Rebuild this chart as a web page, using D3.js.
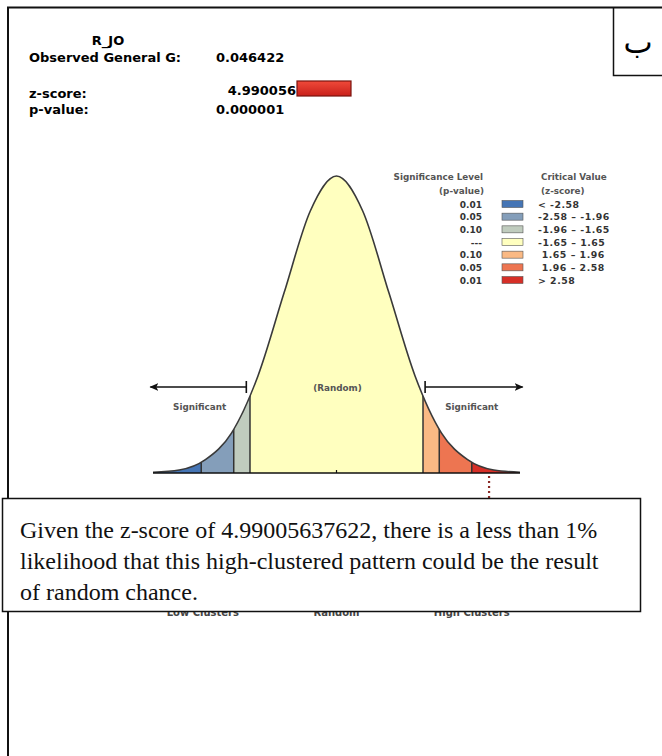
<!DOCTYPE html>
<html>
<head>
<meta charset="utf-8">
<script src="https://cdn.jsdelivr.net/npm/d3@7.9.0/dist/d3.min.js"></script>
<style>
  html, body { margin: 0; padding: 0; background: #fff; }
  svg { display: block; }
</style>
</head>
<body>
<div id="chart"></div>
<script>
// report header
const datasetName = "R_JO";
const headerLabels = ["Observed General G:", "z-score:", "p-value:"];
const headerValues = ["0.046422", "4.990056", "0.000001"];

// legend / bins
const pLevels = ["0.01", "0.05", "0.10", "---", "0.10", "0.05", "0.01"];
const zRanges = ["< -2.58", "-2.58 \u2013 -1.96", "-1.96 \u2013 -1.65", "-1.65 \u2013 1.65", " 1.65 \u2013 1.96", " 1.96 \u2013 2.58", "> 2.58"];
const binColors = ["#4575b5", "#849eba", "#c0ccbe", "#ffffbf", "#fab984", "#ed7551", "#d62f27"];
const zBreaks = [-3.5, -2.58, -1.96, -1.65, 1.65, 1.96, 2.58, 3.5];

// bell curve heights (z, density)
const curveZ = [-3.5, -3, -2.5, -2, -1.5, -1, -0.5, 0, 0.5, 1, 1.5, 2, 2.5, 3, 3.5];
const curveH = [0.001, 0.004, 0.018, 0.054, 0.13, 0.242, 0.352, 0.399, 0.352, 0.242, 0.13, 0.054, 0.018, 0.004, 0.001];

const bottomLabels = ["Low Clusters", "Random", "High Clusters"];
const bottomLabelZ = [-2.55, 0, 2.58];
const pointerZ = 2.91;

const resultLines = [
  "Given the z-score of 4.99005637622, there is a less than 1%",
  "likelihood that this high-clustered pattern could be the result",
  "of random chance."
];

const width = 662, height = 756;
const svg = d3.select("#chart").append("svg")
  .attr("width", width)
  .attr("height", height);

svg.append("rect").attr("width", width).attr("height", height).attr("fill", "#fff");

// outer frame (top + left edge) and the letter box
svg.append("path")
  .attr("d", `M8,${height} L8,7.5 L${width},7.5`)
  .attr("fill", "none").attr("stroke", "#111").attr("stroke-width", 2);
svg.append("path")
  .attr("d", `M613.5,7.5 L613.5,75.5 L${width},75.5`)
  .attr("fill", "none").attr("stroke", "#111").attr("stroke-width", 1.5);
svg.append("text")
  .attr("x", 638).attr("y", 53)
  .attr("text-anchor", "middle")
  .style("font-family", "DejaVu Sans")
  .style("font-size", "31px")
  .text("ب");

// header block
const head = svg.append("g").style("font-family", "'DejaVu Sans', Verdana, sans-serif")
  .style("font-weight", "bold").style("font-size", "13px").attr("fill", "#000");
head.append("text").attr("x", 108).attr("y", 45).attr("text-anchor", "middle").text(datasetName);
const rowY = [62, 98, 114];
headerLabels.forEach((lbl, i) => {
  head.append("text").attr("x", 29).attr("y", rowY[i]).text(lbl);
});
head.append("text").attr("x", 216).attr("y", rowY[0]).text(headerValues[0]);
head.append("text").attr("x", 296).attr("y", 95).attr("text-anchor", "end").text(headerValues[1]);
head.append("text").attr("x", 216).attr("y", rowY[2]).text(headerValues[2]);

// red swatch next to the z-score
const defs = svg.append("defs");
const grad = defs.append("linearGradient").attr("id", "redg").attr("x1", 0).attr("y1", 0).attr("x2", 0).attr("y2", 1);
grad.append("stop").attr("offset", "0%").attr("stop-color", "#f04a3a");
grad.append("stop").attr("offset", "100%").attr("stop-color", "#c8201a");
svg.append("rect")
  .attr("x", 297).attr("y", 81).attr("width", 54).attr("height", 15)
  .attr("fill", "url(#redg)")
  .attr("stroke", "#7a1510").attr("stroke-width", 1.2);

// bell curve
const x = d3.scaleLinear().domain([-3.5, 3.5]).range([153, 520]);
const y = d3.scaleLinear().domain([0, 0.399]).range([473, 176]);
const pts = curveZ.map((z, i) => [z, curveH[i]]);

const area = d3.area()
  .x(d => x(d[0])).y0(y(0)).y1(d => y(d[1]))
  .curve(d3.curveMonotoneX);
const line = d3.line()
  .x(d => x(d[0])).y(d => y(d[1]))
  .curve(d3.curveMonotoneX);

defs.append("clipPath").attr("id", "bellclip")
  .append("path").attr("d", area(pts));

const bins = d3.range(binColors.length).map(i => ({ z0: zBreaks[i], z1: zBreaks[i + 1], color: binColors[i] }));

const bell = svg.append("g").attr("clip-path", "url(#bellclip)");
bell.selectAll("rect.bin")
  .data(bins)
  .join("rect")
  .attr("class", "bin")
  .attr("x", d => x(d.z0))
  .attr("width", d => x(d.z1) - x(d.z0))
  .attr("y", y(0.42))
  .attr("height", y(0) - y(0.42))
  .attr("fill", d => d.color);
bell.selectAll("line.brk")
  .data(zBreaks.slice(1, -1))
  .join("line")
  .attr("class", "brk")
  .attr("x1", d => x(d)).attr("x2", d => x(d))
  .attr("y1", y(0)).attr("y2", y(0.42))
  .attr("stroke", "#333").attr("stroke-width", 1.5);

svg.append("path")
  .attr("d", line(pts))
  .attr("fill", "none")
  .attr("stroke", "#3a3a3a")
  .attr("stroke-width", 1.6);

// baseline and centre tick
svg.append("line")
  .attr("x1", x(-3.5)).attr("x2", x(3.5))
  .attr("y1", y(0)).attr("y2", y(0))
  .attr("stroke", "#111").attr("stroke-width", 1.6);
svg.append("line")
  .attr("x1", x(0)).attr("x2", x(0))
  .attr("y1", y(0)).attr("y2", y(0) - 3)
  .attr("stroke", "#111").attr("stroke-width", 1.2);

// pointer (dotted) below the right tail
svg.append("line")
  .attr("x1", x(pointerZ)).attr("x2", x(pointerZ))
  .attr("y1", y(0) + 3).attr("y2", 500)
  .attr("stroke", "#8a2a25").attr("stroke-width", 2.2)
  .attr("stroke-dasharray", "2,3");

// significance arrows
defs.append("marker")
  .attr("id", "arrowhead")
  .attr("viewBox", "0 -5 10 10")
  .attr("refX", 9).attr("refY", 0)
  .attr("markerWidth", 9).attr("markerHeight", 9)
  .attr("markerUnits", "userSpaceOnUse")
  .attr("orient", "auto")
  .append("path")
  .attr("d", "M0,-4.5 L10,0 L0,4.5 L2.5,0 Z")
  .attr("fill", "#111");

const arrowY = 387;
const arrows = [
  { from: -1.72, to: -3.55 },
  { from: 1.69, to: 3.55 }
];
arrows.forEach(a => {
  svg.append("line")
    .attr("x1", x(a.from)).attr("x2", x(a.to))
    .attr("y1", arrowY).attr("y2", arrowY)
    .attr("stroke", "#111").attr("stroke-width", 1.6)
    .attr("marker-end", "url(#arrowhead)");
  svg.append("line")
    .attr("x1", x(a.from)).attr("x2", x(a.from))
    .attr("y1", arrowY - 6).attr("y2", arrowY + 6)
    .attr("stroke", "#111").attr("stroke-width", 1.6);
});

const noteStyle = sel => sel
  .style("font-family", "'DejaVu Sans', Verdana, sans-serif")
  .style("font-weight", "bold")
  .style("font-size", "8.8px")
  .attr("fill", "#555")
  .attr("text-anchor", "middle");

svg.append("text").attr("x", x(0) + 1).attr("y", 391).call(noteStyle).text("(Random)");
svg.append("text").attr("x", x(-2.61)).attr("y", 410).call(noteStyle).text("Significant");
svg.append("text").attr("x", x(2.58)).attr("y", 410).call(noteStyle).text("Significant");

// legend
const lg = svg.append("g")
  .style("font-family", "'DejaVu Sans', Verdana, sans-serif")
  .style("font-weight", "bold")
  .style("font-size", "8.8px");
lg.append("text").attr("x", 483).attr("y", 180).attr("text-anchor", "end").attr("fill", "#555").text("Significance Level");
lg.append("text").attr("x", 484).attr("y", 194).attr("text-anchor", "end").attr("fill", "#555").text("(p-value)");
lg.append("text").attr("x", 541).attr("y", 180).attr("fill", "#555").text("Critical Value");
lg.append("text").attr("x", 541).attr("y", 194).attr("fill", "#555").text("(z-score)");

const rowScale = d3.scaleLinear().domain([0, 6]).range([204, 280]);
const rows = lg.selectAll("g.row")
  .data(pLevels.map((p, i) => ({ p, z: zRanges[i], color: binColors[i], i })))
  .join("g")
  .attr("class", "row")
  .attr("transform", d => `translate(0,${rowScale(d.i)})`);
rows.append("text").attr("x", 482).attr("y", 3.5).attr("text-anchor", "end").attr("fill", "#333")
  .style("font-size", "9px").text(d => d.p);
rows.append("rect")
  .attr("x", 502).attr("y", -3.5).attr("width", 21).attr("height", 7)
  .attr("fill", d => d.color)
  .attr("stroke", "#555").attr("stroke-width", 0.6);
rows.append("text").attr("x", 538).attr("y", 3.5).attr("fill", "#333")
  .style("font-size", "9.4px")
  .style("letter-spacing", "0.5px")
  .attr("xml:space", "preserve")
  .text(d => d.z);

// labels beneath the curve (mostly hidden by the note box)
svg.append("g").selectAll("text")
  .data(bottomLabels)
  .join("text")
  .attr("x", (d, i) => x(bottomLabelZ[i]))
  .attr("y", 616)
  .attr("text-anchor", "middle")
  .style("font-family", "'DejaVu Sans', Verdana, sans-serif")
  .style("font-weight", "bold")
  .style("font-size", "10px")
  .attr("fill", "#444")
  .text(d => d);

// result note box
svg.append("rect")
  .attr("x", 2.5).attr("y", 498.5).attr("width", 638).attr("height", 113)
  .attr("fill", "#fff").attr("stroke", "#111").attr("stroke-width", 1.5);
svg.append("g").selectAll("text")
  .data(resultLines)
  .join("text")
  .attr("x", 20)
  .attr("y", (d, i) => 538 + i * 31)
  .style("font-family", "'Liberation Serif', 'Times New Roman', serif")
  .style("font-size", "24px")
  .attr("fill", "#111")
  .text(d => d);
</script>
</body>
</html>
